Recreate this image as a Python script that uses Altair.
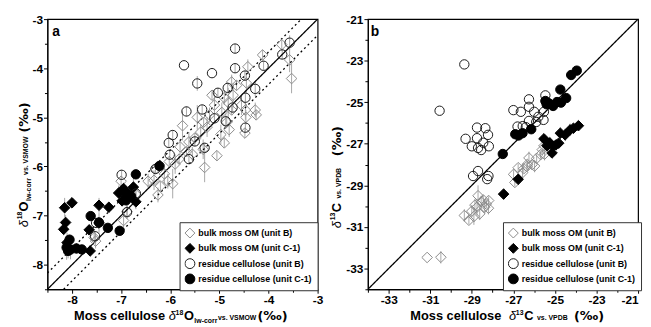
import altair as alt
import pandas as pd

FONT = "Liberation Sans"
SERIES = ["bulk moss OM (unit B)", "bulk moss OM (unit C-1)",
          "residue cellulose (unit B)", "residue cellulose (unit C-1)"]
SHAPES = ["diamond", "diamond", "circle", "circle"]
FILLS = ["transparent", "black", "transparent", "black"]
STROKES = ["#8a8a8a", "black", "#1a1a1a", "black"]

# ---------------- panel a : d18O ----------------
a_bulkB_x = [-3.73, -3.57, -3.53, -4.12, -4.42, -4.45, -4.27, -4.25, -4.47, -4.46, -4.48, -4.55, -4.65, -4.75,
             -4.72, -4.75, -4.82, -4.90, -4.95, -4.85, -4.80, -4.90, -4.97, -5.05, -5.15, -5.10, -5.20, -5.25,
             -5.32, -5.38, -5.33, -5.30, -5.45, -5.50, -5.55, -5.62, -5.67, -5.75, -5.80, -5.82, -5.90, -5.95,
             -6.02, -6.05, -6.12, -6.20, -6.25, -6.30, -6.33, -6.45, -6.70, -6.88, -6.95, -7.00, -7.55, -7.52]
a_bulkB_y = [-3.52, -3.83, -4.21, -3.73, -3.97, -4.30, -4.85, -4.95, -4.85, -5.00, -5.32, -4.75, -4.35, -4.28,
             -4.55, -4.85, -4.70, -4.60, -4.90, -5.10, -5.25, -5.52, -5.35, -5.78, -4.55, -4.75, -4.95, -5.20,
             -5.10, -5.30, -5.65, -6.02, -5.00, -5.42, -5.75, -5.50, -5.70, -5.17, -5.60, -5.85, -5.95, -6.35,
             -5.90, -6.30, -6.15, -6.40, -6.58, -6.05, -6.28, -6.30, -6.57, -6.92, -7.10, -6.30, -7.45, -7.52]
a_bulkB_e = [0.10, 0.25, 0.30, 0.10, 0.15, 0.20, 0.15, 0.10, 0.20, 0.15, 0.10, 0.20, 0.10, 0.15,
             0.25, 0.10, 0.30, 0.15, 0.20, 0.10, 0.15, 0.10, 0.20, 0.10, 0.10, 0.30, 0.15, 0.20,
             0.10, 0.15, 0.20, 0.30, 0.25, 0.10, 0.15, 0.20, 0.10, 0.30, 0.15, 0.10, 0.20, 0.30,
             0.10, 0.15, 0.20, 0.10, 0.15, 0.10, 0.20, 0.15, 0.10, 0.15, 0.20, 0.10, 0.10, 0.15]

a_bulkC_x = [-8.15, -8.00, -8.13, -8.17, -8.10, -7.65, -7.45, -7.25, -7.63, -7.45, -7.05, -6.95, -6.90, -6.75, -6.70, -6.98]
a_bulkC_y = [-6.84, -6.74, -7.14, -7.28, -7.55, -7.29, -6.79, -6.83, -7.72, -7.15, -6.54, -6.45, -6.62, -6.42, -6.72, -6.70]
a_bulkC_e = [0.20, 0.10, 0.15, 0.10, 0.20, 0.10, 0.15, 0.10, 0.10, 0.20, 0.15, 0.10, 0.10, 0.20, 0.15, 0.10]

a_celB_x = [-5.72, -4.68, -3.57, -3.72, -4.68, -5.15, -5.45, -5.67, -5.95, -6.03, -6.01, -5.35, -5.03, -4.83, -4.48, -4.27,
            -4.10, -4.47, -4.47, -4.73, -4.87, -5.10, -5.30, -5.50, -5.62, -6.30, -6.99, -6.88, -7.51, -7.53, -6.70]
a_celB_y = [-3.94, -3.60, -3.48, -3.72, -4.00, -4.10, -4.31, -4.88, -5.36, -5.52, -5.76, -4.84, -4.50, -4.40, -4.15, -4.42,
            -3.95, -4.60, -5.21, -4.80, -5.08, -5.02, -5.62, -5.49, -5.85, -6.05, -6.17, -6.93, -7.15, -7.42, -6.55]
a_celB_e = [0.00, 0.10, 0.15, 0.10, 0.10, 0.00, 0.15, 0.10, 0.10, 0.10, 0.10, 0.10, 0.10, 0.10, 0.10, 0.15,
            0.10, 0.10, 0.10, 0.10, 0.15, 0.10, 0.10, 0.10, 0.10, 0.10, 0.10, 0.10, 0.10, 0.10, 0.10]

a_celC_x = [-8.05, -8.11, -8.03, -7.91, -7.80, -8.08, -7.62, -7.45, -7.27, -7.03, -6.70, -6.88, -6.90, -6.80, -6.22]
a_celC_y = [-7.49, -7.65, -7.69, -7.67, -7.69, -7.72, -7.01, -7.14, -7.25, -7.31, -6.16, -6.55, -6.69, -6.60, -5.99]
a_celC_e = [0.10, 0.25, 0.20, 0.10, 0.10, 0.15, 0.10, 0.10, 0.10, 0.10, 0.10, 0.10, 0.10, 0.10, 0.10]

a_domain = [-8.5, -3.0]
a_ticks = [-8.5, -8.0, -7.5, -7.0, -6.5, -6.0, -5.5, -5.0, -4.5, -4.0, -3.5, -3.0]
a_offset = 0.33   # dotted envelope around the 1:1 line

# ---------------- panel b : d13C ----------------
b_bulkB_x = [-31.15, -30.49, -29.36, -29.14, -28.90, -29.00, -28.85, -28.70, -28.75, -28.55, -28.45, -28.38, -28.19, -28.20,
             -28.62, -28.30, -26.99, -26.93, -26.77, -26.56, -26.33, -26.25, -26.10, -25.98, -25.88, -25.69, -25.61, -25.53,
             -25.50, -26.35, -26.50]
b_bulkB_y = [-32.47, -32.46, -30.45, -30.68, -30.50, -30.24, -29.95, -29.50, -30.05, -29.80, -29.70, -30.05, -29.73, -30.10,
             -30.37, -29.90, -28.47, -28.86, -28.15, -28.39, -27.99, -27.68, -28.00, -28.07, -27.70, -27.52, -27.28, -27.10,
             -27.50, -28.10, -28.20]
b_bulkB_e = [0.00, 0.30, 0.30, 0.20, 0.40, 0.30, 0.30, 0.50, 0.40, 0.30, 0.20, 0.30, 0.20, 0.30,
             0.30, 0.20, 0.20, 0.20, 0.20, 0.30, 0.20, 0.30, 0.20, 0.30, 0.20, 0.20, 0.30, 0.20,
             0.30, 0.20, 0.20]

b_bulkC_x = [-27.47, -26.77, -25.53, -25.38, -25.14, -25.09, -24.82, -24.74, -24.51, -24.27, -24.11, -23.87, -25.25, -24.95]
b_bulkC_y = [-29.42, -28.71, -26.76, -27.09, -27.44, -27.12, -26.97, -26.49, -26.57, -26.33, -26.25, -26.13, -26.95, -27.05]
b_bulkC_e = [0.10, 0.20, 0.20, 0.20, 0.10, 0.20, 0.20, 0.30, 0.30, 0.30, 0.20, 0.20, 0.20, 0.20]

b_celB_x = [-29.36, -30.55, -29.30, -28.75, -28.75, -29.00, -28.70, -28.55, -28.35, -28.22, -28.18, -28.45, -28.94, -28.70,
            -28.26, -28.20, -27.00, -26.64, -26.25, -26.25, -26.00, -26.80, -26.55, -26.25, -25.80, -25.53, -25.90, -25.55,
            -25.46, -26.40]
b_celB_y = [-23.18, -25.41, -26.76, -26.22, -26.73, -27.12, -27.20, -27.30, -26.25, -26.57, -27.12, -26.95, -28.55, -28.31,
            -28.70, -28.55, -25.38, -25.46, -24.86, -25.22, -25.46, -26.17, -26.15, -25.90, -25.70, -25.46, -25.95, -25.85,
            -24.67, -26.20]

b_celC_x = [-27.51, -26.91, -26.75, -26.56, -26.14, -25.46, -25.40, -25.09, -24.90, -24.71, -24.74, -24.46, -24.22, -23.95, -25.30]
b_celC_y = [-27.49, -26.54, -26.60, -26.49, -26.30, -24.94, -25.10, -25.18, -24.99, -25.02, -24.39, -24.80, -23.69, -23.48, -25.05]

b_domain = [-34.0, -21.0]
b_ticks = [-34, -33, -32, -31, -30, -29, -28, -27, -26, -25, -24, -23, -22, -21]


def frame(series_lists):
    rows = []
    for name, xs, ys, es in series_lists:
        for i in range(len(xs)):
            e = es[i] if es is not None else 0.0
            rows.append({"series": name, "x": xs[i], "y": ys[i], "lo": ys[i] - e, "hi": ys[i] + e, "e": e})
    return pd.DataFrame(rows)


def axis(values, label_test, minor_test, flush=False):
    return alt.Axis(values=values, title=None, grid=False,
                    labelExpr=f"({label_test}) ? '' + datum.value : ''",
                    tickSize={"condition": {"test": minor_test, "value": 3}, "value": 4},
                    labelFont=FONT, labelFontSize=12, labelFontWeight="bold", labelColor="black",
                    domainColor="black", tickColor="black", labelPadding=1, labelOverlap=False,
                    labelFlush=flush, labelBound=False)


def txt(s, x, y, size, weight="bold", style="normal", angle=0, font=FONT):
    return alt.Chart(pd.DataFrame({"k": [0]})).mark_text(
        text=s, align="left", baseline="alphabetic", fontSize=size, fontWeight=weight,
        fontStyle=style, angle=angle, font=font, color="black"
    ).encode(x=alt.value(x), y=alt.value(y))


def panel(df, domain, xaxis, yaxis, lines, legend_x, texts):
    xs = alt.Scale(domain=domain, nice=False, zero=False)
    ys = alt.Scale(domain=domain, nice=False, zero=False)
    X = alt.X("x:Q", scale=xs, axis=xaxis)
    Y = alt.Y("y:Q", scale=ys, axis=yaxis)
    err = alt.Chart(df[df["e"] > 0]).mark_rule(color="#a8a8a8", strokeWidth=1).encode(
        x=alt.X("x:Q", scale=xs, axis=xaxis), y=alt.Y("lo:Q", scale=ys, axis=yaxis), y2="hi:Q")
    layers = [err]
    for ldf, dash in lines:
        layers.append(alt.Chart(ldf).mark_line(color="black", strokeWidth=1.3, clip=True,
                                               strokeDash=dash).encode(X, Y, detail="g:N"))
    legend = alt.Legend(title=None, orient="none", legendX=legend_x, legendY=206,
                        strokeColor="#333333", fillColor="white", padding=5, cornerRadius=0,
                        labelFont=FONT, labelFontSize=9, labelFontWeight="bold", labelColor="black",
                        symbolSize=100, symbolStrokeWidth=1, rowPadding=3.5, labelOffset=3,
                        clipHeight=12)
    enc = dict(
        shape=alt.Shape("series:N", scale=alt.Scale(domain=SERIES, range=SHAPES), legend=legend),
        fill=alt.Fill("series:N", scale=alt.Scale(domain=SERIES, range=FILLS), legend=legend),
        stroke=alt.Stroke("series:N", scale=alt.Scale(domain=SERIES, range=STROKES), legend=legend),
        order=alt.Order("ord:Q"),
    )
    order_expr = "indexof(['%s'], datum.series)" % "','".join(SERIES)
    diam = alt.Chart(df[df["series"].isin(SERIES[:2])]).mark_point(
        opacity=1, strokeWidth=1, size=115).encode(X, Y, **enc).transform_calculate(ord=order_expr)
    circ = alt.Chart(df[df["series"].isin(SERIES[2:])]).mark_point(
        opacity=1, strokeWidth=1, size=90).encode(X, Y, **enc).transform_calculate(ord=order_expr)
    layers += [diam, circ]
    layers += texts
    return alt.layer(*layers).properties(width=274, height=274)


# ---- panel a
df_a = frame([(SERIES[0], a_bulkB_x, a_bulkB_y, a_bulkB_e), (SERIES[2], a_celB_x, a_celB_y, a_celB_e),
              (SERIES[1], a_bulkC_x, a_bulkC_y, a_bulkC_e), (SERIES[3], a_celC_x, a_celC_y, a_celC_e)])
a_one = pd.DataFrame({"x": a_domain, "y": a_domain, "g": ["1:1", "1:1"]})
a_env = pd.DataFrame({"x": [a_domain[0], a_domain[1] - a_offset, a_domain[0] + a_offset, a_domain[1]],
                      "y": [a_domain[0] + a_offset, a_domain[1], a_domain[0], a_domain[1] - a_offset],
                      "g": ["up", "up", "dn", "dn"]})
a_axis = axis(a_ticks, "datum.value % 1 === 0", "datum.value % 1 !== 0")
XT = 305  # x-title baseline (relative to plot top)
a_texts = [
    txt("a", 5, 17, 14),
    # x title
    txt("Moss cellulose", 27, XT, 13),
    txt("\u03b4", 123, XT, 13, weight="normal", style="italic"),
    txt("18", 130, XT - 5, 7),
    txt("O", 138.5, XT, 13),
    txt("lw-corr", 149, XT + 3, 7),
    txt("vs. VSMOW", 173, XT, 7),
    txt("(\u2030)", 213, XT, 13, font="DejaVu Sans"),
    # y title (rotated)
    txt("\u03b4", -20, 211, 13, weight="normal", style="italic", angle=270),
    txt("18", -26, 203, 7, angle=270),
    txt("O", -20, 195, 13, angle=270),
    txt("lw-corr", -17, 184.5, 7, angle=270),
    txt("vs. VSMOW", -20, 158, 7, angle=270),
    txt("(\u2030)", -20, 115, 13, angle=270, font="DejaVu Sans"),
]
panel_a = panel(df_a, a_domain, a_axis, a_axis, [(a_one, [1, 0]), (a_env, [2, 3])], 134, a_texts)

# ---- panel b
df_b = frame([(SERIES[0], b_bulkB_x, b_bulkB_y, b_bulkB_e), (SERIES[2], b_celB_x, b_celB_y, None),
              (SERIES[1], b_bulkC_x, b_bulkC_y, b_bulkC_e), (SERIES[3], b_celC_x, b_celC_y, None)])
b_one = pd.DataFrame({"x": b_domain, "y": b_domain, "g": ["1:1", "1:1"]})
b_xaxis = axis(b_ticks, "abs(datum.value) % 2 === 1", "abs(datum.value) % 2 === 0", flush=True)
b_yaxis = axis(b_ticks, "abs(datum.value) % 2 === 1", "abs(datum.value) % 2 === 0")
b_texts = [
    txt("b", 3, 17, 14),
    txt("Moss cellulose", 43, XT, 13),
    txt("\u03b4", 143, XT, 13, weight="normal", style="italic"),
    txt("13", 150, XT - 5, 7),
    txt("C", 158.5, XT, 13),
    txt("vs. VPDB", 171.5, XT, 7),
    txt("(\u2030)", 209, XT, 13, font="DejaVu Sans"),
    txt("\u03b4", -27, 212, 13, weight="normal", style="italic", angle=270),
    txt("13", -33, 204, 7, angle=270),
    txt("C", -27, 196, 13, angle=270),
    txt("vs. VPDB", -27, 182, 7, angle=270),
    txt("(\u2030)", -27, 139, 13, angle=270, font="DejaVu Sans"),
]
panel_b = panel(df_b, b_domain, b_xaxis, b_yaxis, [(b_one, [1, 0])], 137, b_texts)

chart = alt.hconcat(panel_a, panel_b, spacing=5).resolve_scale(
    x="independent", y="independent", shape="independent", fill="independent", stroke="independent"
).properties(
    padding={"left": 7, "top": 2, "right": 0, "bottom": 0}, background="white"
).configure_view(stroke="black", strokeWidth=1.2)

chart.save("out.html", embed_options={"renderer": "svg", "actions": False})
